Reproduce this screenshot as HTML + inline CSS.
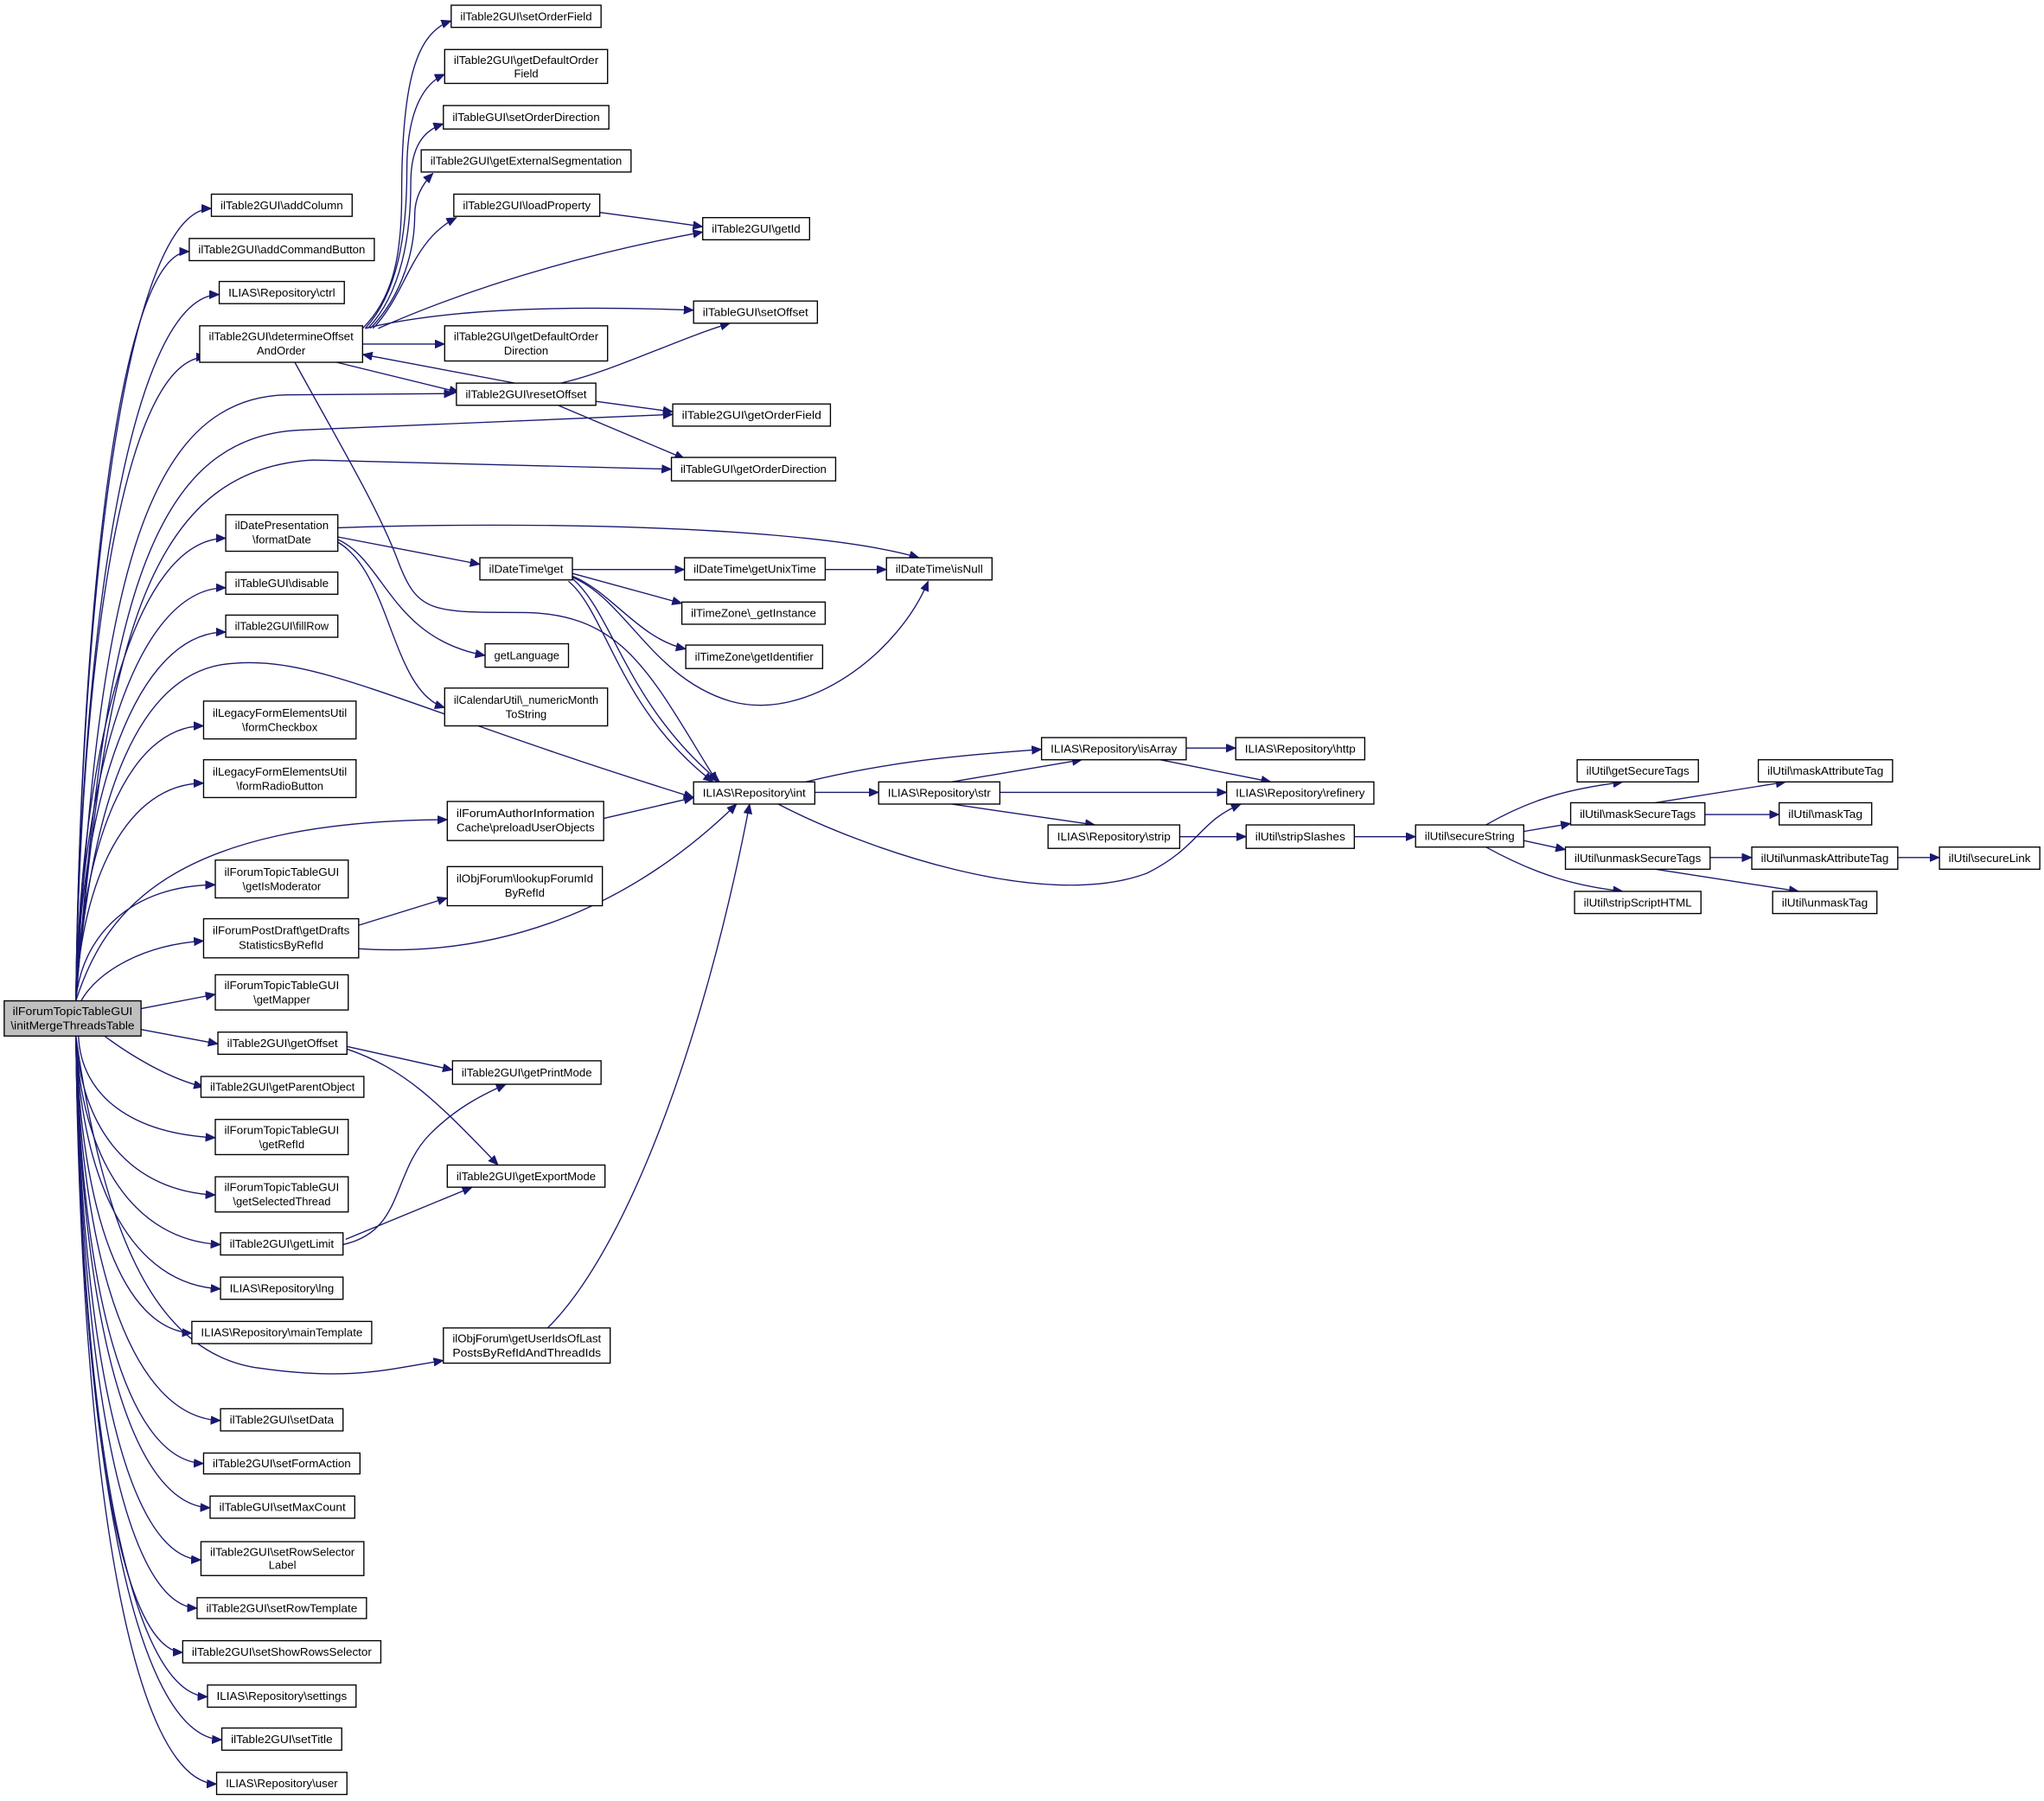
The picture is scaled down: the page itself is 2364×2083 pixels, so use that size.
<!DOCTYPE html>
<html><head><meta charset="utf-8"><style>
html,body{margin:0;padding:0;background:#fff;}
svg{display:block;}
text{font-family:"Liberation Sans",sans-serif;font-size:8.6px;fill:#000;text-anchor:middle;}
.b{fill:#fff;stroke:#000;stroke-width:0.9;}
.e{fill:none;stroke:#191970;stroke-width:0.9;marker-end:url(#a);}
</style></head><body>
<svg width="2364" height="2083" viewBox="0 0 1568 1382" xmlns="http://www.w3.org/2000/svg">
<defs><marker id="a" markerUnits="userSpaceOnUse" markerWidth="8" markerHeight="7" refX="7.5" refY="3.2" orient="auto"><path d="M0,0 L7.5,3.2 L0,6.4 z" fill="#191970" stroke="#191970" stroke-width="0.5"/></marker></defs>

<!-- edges from root -->
<path class="e" d="M58,768 C62,432 100,160 162,160"/>
<path class="e" d="M58,768 C62,451 93,193 145,193"/>
<path class="e" d="M58,768 C62,469 102,226 168,226"/>
<path class="e" d="M58,768 C62,495 96,274 158,274"/>
<path class="e" d="M58,768 C75,450 110,305 220,303 L348,302"/>
<path class="e" d="M58,768 C80,480 110,335 230,330 L516,318"/>
<path class="e" d="M58,768 C80,500 110,360 240,353 L515,360"/>
<path class="e" d="M58,768 C62,572 104,413 173,413"/>
<path class="e" d="M58,768 C62,593 104,451 173,451"/>
<path class="e" d="M58,768 C62,611 104,485 173,485"/>
<path class="e" d="M58,768 C70,600 110,520 170,510 C240,500 300,540 532,612"/>
<path class="e" d="M58,768 C62,651 97,557 156,557"/>
<path class="e" d="M58,768 C62,675 97,601 156,601"/>
<path class="e" d="M58,768 C80,700 130,630 343,629"/>
<path class="e" d="M58,768 C62,718 101,679 165,679"/>
<path class="e" d="M62,768 C75,745 110,725 156,722"/>
<path class="e" d="M108,774 L165,763"/>
<path class="e" d="M108,790 L167,801"/>
<path class="e" d="M80,795 C100,810 130,828 156,834"/>
<path class="e" d="M60,795 C62,841 101,870 165,873"/>
<path class="e" d="M58,795 C62,868 101,914 165,917"/>
<path class="e" d="M58,795 C62,890 103,952 169,955"/>
<path class="e" d="M58,795 C62,911 102,986 169,989"/>
<path class="e" d="M58,795 C62,931 94,1020 147,1023"/>
<path class="e" d="M58,795 C80,950 120,1040 200,1050 C270,1060 300,1050 340,1044"/>
<path class="e" d="M58,795 C62,972 102,1088 169,1090"/>
<path class="e" d="M58,795 C62,992 97,1121 156,1123"/>
<path class="e" d="M58,795 C62,1012 99,1155 161,1157"/>
<path class="e" d="M58,795 C62,1036 96,1195 154,1197"/>
<path class="e" d="M58,795 C62,1058 95,1232 151,1234"/>
<path class="e" d="M58,795 C62,1079 91,1266 140,1268"/>
<path class="e" d="M58,795 C62,1099 99,1300 159,1302"/>
<path class="e" d="M58,795 C62,1119 103,1333 170,1335"/>
<path class="e" d="M58,795 C62,1139 101,1367 166,1369"/>

<!-- determineOffset -->
<path class="e" d="M278,252 C300,230 308,200 308,150 C308,60 320,25 346,16"/>
<path class="e" d="M280,252 C305,225 312,180 312,130 C312,85 325,64 341,57"/>
<path class="e" d="M282,252 C308,225 315,180 315,140 C315,112 325,100 340,95"/>
<path class="e" d="M284,252 C310,225 318,190 318,165 C318,150 325,140 332,133"/>
<path class="e" d="M286,252 C312,225 315,185 350,167"/>
<path class="e" d="M290,252 C340,230 420,200 539,178"/>
<path class="e" d="M280,252 C350,235 450,235 532,238"/>
<path class="e" d="M278,264 L341,264"/>
<path class="e" d="M258,278 L352,301"/>
<path class="e" d="M395,294 L278,272"/>
<path class="e" d="M226,278 C260,340 290,390 305,430 C320,470 330,470 400,470 C480,470 500,520 550,600"/>
<path class="e" d="M430,294 C470,285 520,260 560,248"/>
<path class="e" d="M457,308 L516,316"/>
<path class="e" d="M428,311 L525,352"/>
<path class="e" d="M460,163 C490,167 520,171 539,174"/>

<!-- formatDate / get -->
<path class="e" d="M259,405 C400,400 620,403 705,428"/>
<path class="e" d="M259,412 L368,433"/>
<path class="e" d="M259,414 C295,430 300,490 372,503"/>
<path class="e" d="M259,416 C300,440 300,530 341,543"/>
<path class="e" d="M439,437 L525,437"/>
<path class="e" d="M439,440 L523,463"/>
<path class="e" d="M439,442 C470,455 490,490 526,498"/>
<path class="e" d="M439,443 C480,460 500,520 560,538 C620,555 690,500 712,446"/>
<path class="e" d="M439,444 C470,470 480,540 552,600"/>
<path class="e" d="M436,446 C465,470 475,545 547,600"/>
<path class="e" d="M633,437 L680,437"/>

<!-- misc -->
<path class="e" d="M463,628 L532,612"/>
<path class="e" d="M275,710 L343,689"/>
<path class="e" d="M275,728 C380,735 480,700 565,617"/>
<path class="e" d="M420,1019 C480,960 540,800 575,617"/>
<path class="e" d="M266,803 L347,821"/>
<path class="e" d="M266,805 C310,820 335,845 382,894"/>
<path class="e" d="M263,955 C310,945 300,900 330,870 C350,850 370,840 388,832"/>
<path class="e" d="M265,951 L362,911"/>

<!-- right part -->
<path class="e" d="M618,600 C680,585 730,580 799,575"/>
<path class="e" d="M625,608 L674,608"/>
<path class="e" d="M597,617 C660,650 800,700 880,670 C920,650 920,630 952,617"/>
<path class="e" d="M730,600 L830,583"/>
<path class="e" d="M767,608 L941,608"/>
<path class="e" d="M730,617 L840,633"/>
<path class="e" d="M910,574 L948,574"/>
<path class="e" d="M890,583 L975,600"/>
<path class="e" d="M905,642 L956,642"/>
<path class="e" d="M1039,642 L1086,642"/>
<path class="e" d="M1140,633 C1180,610 1210,605 1245,600"/>
<path class="e" d="M1169,638 L1205,632"/>
<path class="e" d="M1169,645 L1201,652"/>
<path class="e" d="M1140,650 C1180,672 1210,680 1245,684"/>
<path class="e" d="M1270,616 L1370,600"/>
<path class="e" d="M1308,625 L1365,625"/>
<path class="e" d="M1312,658 L1344,658"/>
<path class="e" d="M1270,667 L1380,684"/>
<path class="e" d="M1456,658 L1488,658"/>

<!-- nodes -->
<rect x="3" y="768" width="105" height="27" style="fill:#bfbfbf;stroke:#000;stroke-width:0.9"/>
<text x="55.5" y="779" textLength="92" lengthAdjust="spacingAndGlyphs">ilForumTopicTableGUI</text>
<text x="55.5" y="790" textLength="95" lengthAdjust="spacingAndGlyphs">\initMergeThreadsTable</text>

<rect class="b" x="162" y="149" width="108" height="17"/><text x="216" y="160.5" textLength="94" lengthAdjust="spacingAndGlyphs">ilTable2GUI\addColumn</text>
<rect class="b" x="145" y="183" width="142" height="17"/><text x="216" y="194.5" textLength="128" lengthAdjust="spacingAndGlyphs">ilTable2GUI\addCommandButton</text>
<rect class="b" x="168" y="216" width="96" height="17"/><text x="216" y="227.5" textLength="82" lengthAdjust="spacingAndGlyphs">ILIAS\Repository\ctrl</text>
<rect class="b" x="153" y="250" width="125" height="28"/><text x="215.5" y="261" textLength="111" lengthAdjust="spacingAndGlyphs">ilTable2GUI\determineOffset</text><text x="215.5" y="272">AndOrder</text>
<rect class="b" x="173" y="395" width="86" height="28"/><text x="216" y="406" textLength="72" lengthAdjust="spacingAndGlyphs">ilDatePresentation</text><text x="216" y="417">\formatDate</text>
<rect class="b" x="173" y="439" width="86" height="17"/><text x="216" y="450.5" textLength="72" lengthAdjust="spacingAndGlyphs">ilTableGUI\disable</text>
<rect class="b" x="173" y="472" width="86" height="17"/><text x="216" y="483.5" textLength="72" lengthAdjust="spacingAndGlyphs">ilTable2GUI\fillRow</text>
<rect class="b" x="156" y="538" width="117" height="29"/><text x="214.5" y="550" textLength="103" lengthAdjust="spacingAndGlyphs">ilLegacyFormElementsUtil</text><text x="214.5" y="561">\formCheckbox</text>
<rect class="b" x="156" y="583" width="117" height="29"/><text x="214.5" y="595" textLength="103" lengthAdjust="spacingAndGlyphs">ilLegacyFormElementsUtil</text><text x="214.5" y="606">\formRadioButton</text>
<rect class="b" x="165" y="660" width="102" height="29"/><text x="216" y="672" textLength="88" lengthAdjust="spacingAndGlyphs">ilForumTopicTableGUI</text><text x="216" y="683">\getIsModerator</text>
<rect class="b" x="156" y="705" width="119" height="30"/><text x="215.5" y="717" textLength="105" lengthAdjust="spacingAndGlyphs">ilForumPostDraft\getDrafts</text><text x="215.5" y="728">StatisticsByRefId</text>
<rect class="b" x="165" y="748" width="102" height="27"/><text x="216" y="759" textLength="88" lengthAdjust="spacingAndGlyphs">ilForumTopicTableGUI</text><text x="216" y="770">\getMapper</text>
<rect class="b" x="167" y="792" width="99" height="17"/><text x="216.5" y="803.5" textLength="85" lengthAdjust="spacingAndGlyphs">ilTable2GUI\getOffset</text>
<rect class="b" x="154" y="826" width="125" height="16"/><text x="216.5" y="837" textLength="111" lengthAdjust="spacingAndGlyphs">ilTable2GUI\getParentObject</text>
<rect class="b" x="165" y="859" width="102" height="27"/><text x="216" y="870" textLength="88" lengthAdjust="spacingAndGlyphs">ilForumTopicTableGUI</text><text x="216" y="881">\getRefId</text>
<rect class="b" x="165" y="903" width="102" height="27"/><text x="216" y="914" textLength="88" lengthAdjust="spacingAndGlyphs">ilForumTopicTableGUI</text><text x="216" y="925">\getSelectedThread</text>
<rect class="b" x="169" y="946" width="94" height="17"/><text x="216" y="957.5" textLength="80" lengthAdjust="spacingAndGlyphs">ilTable2GUI\getLimit</text>
<rect class="b" x="169" y="980" width="94" height="17"/><text x="216" y="991.5" textLength="80" lengthAdjust="spacingAndGlyphs">ILIAS\Repository\lng</text>
<rect class="b" x="147" y="1014" width="138" height="17"/><text x="216" y="1025.5" textLength="124" lengthAdjust="spacingAndGlyphs">ILIAS\Repository\mainTemplate</text>
<rect class="b" x="169" y="1081" width="94" height="17"/><text x="216" y="1092.5" textLength="80" lengthAdjust="spacingAndGlyphs">ilTable2GUI\setData</text>
<rect class="b" x="156" y="1115" width="120" height="16"/><text x="216" y="1126" textLength="106" lengthAdjust="spacingAndGlyphs">ilTable2GUI\setFormAction</text>
<rect class="b" x="161" y="1148" width="111" height="17"/><text x="216.5" y="1159.5" textLength="97" lengthAdjust="spacingAndGlyphs">ilTableGUI\setMaxCount</text>
<rect class="b" x="154" y="1183" width="125" height="26"/><text x="216.5" y="1194" textLength="111" lengthAdjust="spacingAndGlyphs">ilTable2GUI\setRowSelector</text><text x="216.5" y="1204">Label</text>
<rect class="b" x="151" y="1226" width="130" height="16"/><text x="216" y="1237" textLength="116" lengthAdjust="spacingAndGlyphs">ilTable2GUI\setRowTemplate</text>
<rect class="b" x="140" y="1259" width="152" height="17"/><text x="216" y="1270.5" textLength="138" lengthAdjust="spacingAndGlyphs">ilTable2GUI\setShowRowsSelector</text>
<rect class="b" x="159" y="1293" width="114" height="17"/><text x="216" y="1304.5" textLength="100" lengthAdjust="spacingAndGlyphs">ILIAS\Repository\settings</text>
<rect class="b" x="170" y="1326" width="92" height="17"/><text x="216" y="1337.5" textLength="78" lengthAdjust="spacingAndGlyphs">ilTable2GUI\setTitle</text>
<rect class="b" x="166" y="1360" width="100" height="17"/><text x="216" y="1371.5" textLength="86" lengthAdjust="spacingAndGlyphs">ILIAS\Repository\user</text>

<rect class="b" x="346" y="4" width="115" height="17"/><text x="403.5" y="15.5" textLength="101" lengthAdjust="spacingAndGlyphs">ilTable2GUI\setOrderField</text>
<rect class="b" x="341" y="38" width="125" height="26"/><text x="403.5" y="49" textLength="111" lengthAdjust="spacingAndGlyphs">ilTable2GUI\getDefaultOrder</text><text x="403.5" y="59.5">Field</text>
<rect class="b" x="340" y="81" width="127" height="18"/><text x="403.5" y="93" textLength="113" lengthAdjust="spacingAndGlyphs">ilTableGUI\setOrderDirection</text>
<rect class="b" x="323" y="115" width="161" height="17"/><text x="403.5" y="126.5" textLength="147" lengthAdjust="spacingAndGlyphs">ilTable2GUI\getExternalSegmentation</text>
<rect class="b" x="348" y="149" width="112" height="17"/><text x="404" y="160.5" textLength="98" lengthAdjust="spacingAndGlyphs">ilTable2GUI\loadProperty</text>
<rect class="b" x="341" y="250" width="125" height="27"/><text x="403.5" y="261" textLength="111" lengthAdjust="spacingAndGlyphs">ilTable2GUI\getDefaultOrder</text><text x="403.5" y="272">Direction</text>
<rect class="b" x="350" y="294" width="107" height="17"/><text x="403.5" y="305.5" textLength="93" lengthAdjust="spacingAndGlyphs">ilTable2GUI\resetOffset</text>
<rect class="b" x="368" y="428" width="71" height="17"/><text x="403.5" y="439.5" textLength="57" lengthAdjust="spacingAndGlyphs">ilDateTime\get</text>
<rect class="b" x="372" y="494" width="64" height="18"/><text x="404" y="506" textLength="50" lengthAdjust="spacingAndGlyphs">getLanguage</text>
<rect class="b" x="341" y="528" width="125" height="29"/><text x="403.5" y="540" textLength="111" lengthAdjust="spacingAndGlyphs">ilCalendarUtil\_numericMonth</text><text x="403.5" y="551">ToString</text>
<rect class="b" x="343" y="615" width="120" height="30"/><text x="403" y="627" textLength="106" lengthAdjust="spacingAndGlyphs">ilForumAuthorInformation</text><text x="403" y="638" textLength="106" lengthAdjust="spacingAndGlyphs">Cache\preloadUserObjects</text>
<rect class="b" x="343" y="665" width="119" height="30"/><text x="402.5" y="677" textLength="105" lengthAdjust="spacingAndGlyphs">ilObjForum\lookupForumId</text><text x="402.5" y="688">ByRefId</text>
<rect class="b" x="347" y="814" width="114" height="18"/><text x="404" y="826" textLength="100" lengthAdjust="spacingAndGlyphs">ilTable2GUI\getPrintMode</text>
<rect class="b" x="343" y="894" width="121" height="17"/><text x="403.5" y="905.5" textLength="107" lengthAdjust="spacingAndGlyphs">ilTable2GUI\getExportMode</text>
<rect class="b" x="340" y="1019" width="128" height="27"/><text x="404" y="1030" textLength="114" lengthAdjust="spacingAndGlyphs">ilObjForum\getUserIdsOfLast</text><text x="404" y="1041" textLength="114" lengthAdjust="spacingAndGlyphs">PostsByRefIdAndThreadIds</text>

<rect class="b" x="539" y="167" width="82" height="17"/><text x="580" y="178.5" textLength="68" lengthAdjust="spacingAndGlyphs">ilTable2GUI\getId</text>
<rect class="b" x="532" y="231" width="95" height="17"/><text x="579.5" y="242.5" textLength="81" lengthAdjust="spacingAndGlyphs">ilTableGUI\setOffset</text>
<rect class="b" x="516" y="310" width="121" height="17"/><text x="576.5" y="321.5" textLength="107" lengthAdjust="spacingAndGlyphs">ilTable2GUI\getOrderField</text>
<rect class="b" x="515" y="351" width="126" height="18"/><text x="578" y="363" textLength="112" lengthAdjust="spacingAndGlyphs">ilTableGUI\getOrderDirection</text>
<rect class="b" x="525" y="428" width="108" height="17"/><text x="579" y="439.5" textLength="94" lengthAdjust="spacingAndGlyphs">ilDateTime\getUnixTime</text>
<rect class="b" x="680" y="428" width="81" height="17"/><text x="720.5" y="439.5" textLength="67" lengthAdjust="spacingAndGlyphs">ilDateTime\isNull</text>
<rect class="b" x="523" y="462" width="110" height="17"/><text x="578" y="473.5" textLength="96" lengthAdjust="spacingAndGlyphs">ilTimeZone\_getInstance</text>
<rect class="b" x="526" y="495" width="105" height="18"/><text x="578.5" y="507" textLength="91" lengthAdjust="spacingAndGlyphs">ilTimeZone\getIdentifier</text>
<rect class="b" x="532" y="600" width="93" height="17"/><text x="578.5" y="611.5" textLength="79" lengthAdjust="spacingAndGlyphs">ILIAS\Repository\int</text>
<rect class="b" x="674" y="600" width="93" height="17"/><text x="720.5" y="611.5" textLength="79" lengthAdjust="spacingAndGlyphs">ILIAS\Repository\str</text>
<rect class="b" x="799" y="566" width="111" height="17"/><text x="854.5" y="577.5" textLength="97" lengthAdjust="spacingAndGlyphs">ILIAS\Repository\isArray</text>
<rect class="b" x="948" y="566" width="99" height="17"/><text x="997.5" y="577.5" textLength="85" lengthAdjust="spacingAndGlyphs">ILIAS\Repository\http</text>
<rect class="b" x="941" y="600" width="113" height="17"/><text x="997.5" y="611.5" textLength="99" lengthAdjust="spacingAndGlyphs">ILIAS\Repository\refinery</text>
<rect class="b" x="804" y="633" width="101" height="18"/><text x="854.5" y="645" textLength="87" lengthAdjust="spacingAndGlyphs">ILIAS\Repository\strip</text>
<rect class="b" x="956" y="633" width="83" height="18"/><text x="997.5" y="645" textLength="69" lengthAdjust="spacingAndGlyphs">ilUtil\stripSlashes</text>
<rect class="b" x="1086" y="633" width="83" height="17"/><text x="1127.5" y="644.5" textLength="69" lengthAdjust="spacingAndGlyphs">ilUtil\secureString</text>
<rect class="b" x="1210" y="583" width="93" height="17"/><text x="1256.5" y="594.5" textLength="79" lengthAdjust="spacingAndGlyphs">ilUtil\getSecureTags</text>
<rect class="b" x="1205" y="616" width="103" height="17"/><text x="1256.5" y="627.5" textLength="89" lengthAdjust="spacingAndGlyphs">ilUtil\maskSecureTags</text>
<rect class="b" x="1201" y="650" width="111" height="17"/><text x="1256.5" y="661.5" textLength="97" lengthAdjust="spacingAndGlyphs">ilUtil\unmaskSecureTags</text>
<rect class="b" x="1208" y="684" width="97" height="17"/><text x="1256.5" y="695.5" textLength="83" lengthAdjust="spacingAndGlyphs">ilUtil\stripScriptHTML</text>
<rect class="b" x="1349" y="583" width="103" height="17"/><text x="1400.5" y="594.5" textLength="89" lengthAdjust="spacingAndGlyphs">ilUtil\maskAttributeTag</text>
<rect class="b" x="1365" y="616" width="71" height="17"/><text x="1400.5" y="627.5" textLength="57" lengthAdjust="spacingAndGlyphs">ilUtil\maskTag</text>
<rect class="b" x="1344" y="650" width="112" height="17"/><text x="1400" y="661.5" textLength="98" lengthAdjust="spacingAndGlyphs">ilUtil\unmaskAttributeTag</text>
<rect class="b" x="1488" y="650" width="77" height="17"/><text x="1526.5" y="661.5" textLength="63" lengthAdjust="spacingAndGlyphs">ilUtil\secureLink</text>
<rect class="b" x="1360" y="684" width="80" height="17"/><text x="1400" y="695.5" textLength="66" lengthAdjust="spacingAndGlyphs">ilUtil\unmaskTag</text>
</svg>
</body></html>
